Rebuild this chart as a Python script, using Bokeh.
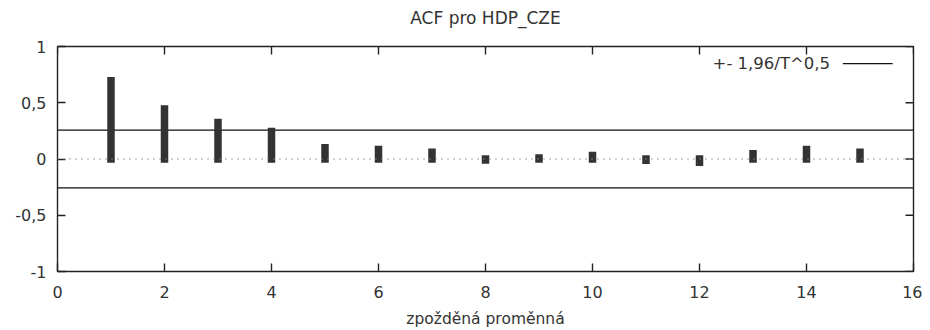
import math
from bokeh.plotting import figure
from bokeh.models import Span, Label, FixedTicker, Range1d, LinearAxis
from bokeh.embed import file_html
from bokeh.resources import INLINE

# ---- data ----
lags = [1, 2, 3, 4, 5, 6, 7, 8, 9, 10, 11, 12, 13, 14, 15]
acf = [0.695, 0.445, 0.325, 0.245, 0.099, 0.084, 0.060, -0.008, 0.010,
       0.031, -0.012, -0.028, 0.046, 0.084, 0.060]
conf_band = 0.257  # +- 1,96/T^0,5
x_ticks = [0, 2, 4, 6, 8, 10, 12, 14, 16]
x_tick_labels = ["0", "2", "4", "6", "8", "10", "12", "14", "16"]
y_ticks = [-1, -0.5, 0, 0.5, 1]
y_tick_labels = ["-1", "-0,5", "0", "0,5", "1"]
title_text = "ACF pro HDP_CZE"
x_label = "zpožděná proměnná"
legend_label = "+- 1,96/T^0,5"

# ---- layout / style ----
FONT = "DejaVu Sans"
TXT = "#333333"
FRAME = "#222222"
x_min, x_max = 0, 16
y_min, y_max = -1, 1
legend_text_x, legend_y = 14.44, 0.847
legend_key_x0, legend_key_x1 = 14.68, 15.61

p = figure(width=922, height=330, output_backend="svg", toolbar_location=None,
           x_range=Range1d(x_min, x_max), y_range=Range1d(y_min, y_max),
           min_border_left=57, min_border_right=9, min_border_top=46,
           min_border_bottom=58, x_axis_label=x_label)
p.background_fill_color = "white"
p.border_fill_color = "white"
p.outline_line_color = FRAME
p.outline_line_width = 1.4
p.xgrid.visible = False
p.ygrid.visible = False


def style_axis(ax, standoff):
    ax.axis_line_color = None
    ax.major_tick_in = 8
    ax.major_tick_out = 0
    ax.minor_tick_line_color = None
    ax.major_tick_line_color = FRAME
    ax.major_tick_line_width = 1.4
    ax.major_label_text_font = FONT
    ax.major_label_text_color = TXT
    ax.major_label_text_font_size = "16px"
    ax.major_label_standoff = standoff


p.xaxis.ticker = FixedTicker(ticks=x_ticks)
p.xaxis.major_label_overrides = {t: s for t, s in zip(x_ticks, x_tick_labels)}
style_axis(p.xaxis[0], 14)
p.xaxis.axis_label_text_font = FONT
p.xaxis.axis_label_text_font_size = "15.5px"
p.xaxis.axis_label_text_font_style = "normal"
p.xaxis.axis_label_text_color = TXT
p.xaxis.axis_label_standoff = 9

p.yaxis.ticker = FixedTicker(ticks=y_ticks)
p.yaxis.major_label_overrides = {t: s for t, s in zip(y_ticks, y_tick_labels)}
style_axis(p.yaxis[0], 11)

# title as the label of a tick-less top axis
top_ax = LinearAxis(ticker=FixedTicker(ticks=[]), axis_label=title_text)
top_ax.axis_line_color = None
top_ax.major_tick_line_color = None
top_ax.minor_tick_line_color = None
top_ax.major_tick_out = 0
top_ax.major_tick_in = 0
top_ax.major_label_standoff = 0
top_ax.axis_label_standoff = 19
top_ax.axis_label_text_font = FONT
top_ax.axis_label_text_font_size = "17px"
top_ax.axis_label_text_font_style = "normal"
top_ax.axis_label_text_color = TXT
p.add_layout(top_ax, "above")

# mirrored inward ticks on top and right (dash markers clipped by the frame)
p.scatter(x=x_ticks, y=[y_max] * len(x_ticks), marker="dash", size=16,
          angle=math.pi / 2, line_color=FRAME, line_width=1.4)
p.scatter(x=[x_max] * len(y_ticks), y=y_ticks, marker="dash", size=16,
          line_color=FRAME, line_width=1.4)

# zero line (dotted)
p.add_layout(Span(location=0, dimension="width", line_color="#888888",
                  line_width=1.3, line_dash="1 5"))

# confidence band lines
p.segment(x0=[x_min, x_min], x1=[x_max, x_max], y0=[conf_band, -conf_band],
          y1=[conf_band, -conf_band], line_color="#111111", line_width=1.3)

# ACF impulses
p.segment(x0=lags, x1=lags, y0=[0] * len(lags), y1=acf,
          line_color="#333333", line_width=7.5, line_cap="square")

# legend (gnuplot style: text then key)
p.add_layout(Label(x=legend_text_x, y=legend_y, text=legend_label,
                   text_align="right", text_baseline="middle",
                   text_font=FONT, text_font_size="16.5px", text_color=TXT))
p.line(x=[legend_key_x0, legend_key_x1], y=[legend_y, legend_y],
       line_color="#111111", line_width=1.3)

open("out.html", "w").write(file_html(p, INLINE))
